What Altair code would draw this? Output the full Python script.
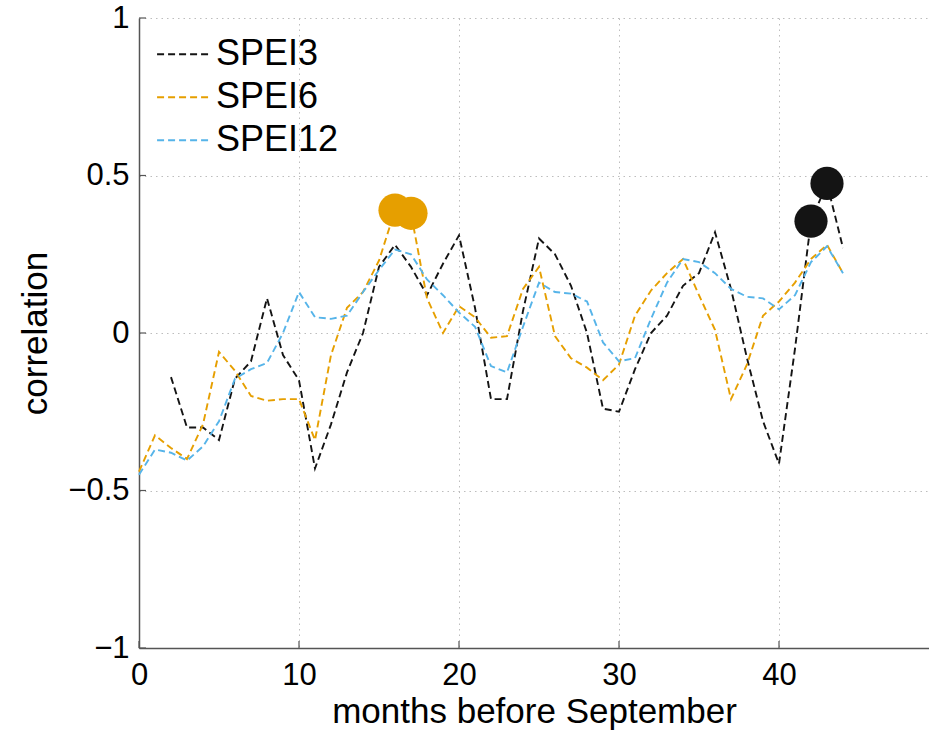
import altair as alt
import pandas as pd

# months before September
months = list(range(0, 45))

# correlation values
spei3 = [None, None, -0.14, -0.30, -0.30, -0.34, -0.145, -0.09, 0.11, -0.07,
         -0.15, -0.43, -0.29, -0.125, 0.0, 0.21, 0.28, 0.21, 0.12, 0.22,
         0.31, 0.08, -0.21, -0.21, 0.07, 0.30, 0.25, 0.15, 0.0, -0.24,
         -0.25, -0.115, 0.0, 0.055, 0.15, 0.19, 0.32, 0.14, -0.08, -0.28,
         -0.415, -0.05, 0.355, 0.475, 0.27]
spei6 = [-0.44, -0.325, -0.365, -0.40, -0.29, -0.06, -0.12, -0.20, -0.215, -0.21,
         -0.21, -0.34, -0.07, 0.08, 0.13, 0.23, 0.39, 0.38, 0.11, 0.0,
         0.085, 0.05, -0.015, -0.01, 0.14, 0.21, -0.01, -0.08, -0.11, -0.15,
         -0.10, 0.055, 0.135, 0.19, 0.235, 0.12, 0.01, -0.21, -0.10, 0.055,
         0.10, 0.16, 0.235, 0.28, 0.19]
spei12 = [-0.45, -0.37, -0.38, -0.405, -0.36, -0.28, -0.145, -0.115, -0.095, 0.0,
          0.13, 0.05, 0.045, 0.055, 0.13, 0.2, 0.265, 0.25, 0.17, 0.12,
          0.065, 0.02, -0.105, -0.125, 0.02, 0.16, 0.13, 0.125, 0.1, -0.03,
          -0.09, -0.08, 0.045, 0.16, 0.235, 0.225, 0.19, 0.14, 0.115, 0.11,
          0.075, 0.12, 0.225, 0.275, 0.19]

series_names = ["SPEI3", "SPEI6", "SPEI12"]
series_colors = ["#141414", "#E69F00", "#56B4E9"]

# significant months (large dots)
sig_spei6_months = [16, 17]
sig_spei3_months = [42, 43]

x_ticks = [0, 10, 20, 30, 40]
y_ticks = [-1, -0.5, 0, 0.5, 1]

rows = []
for name, vals in zip(series_names, [spei3, spei6, spei12]):
    for m, v in zip(months, vals):
        if v is not None:
            rows.append({"month": m, "corr": v, "series": name})
df = pd.DataFrame(rows)

sig_rows = []
for name, ms, vals in [("SPEI6", sig_spei6_months, spei6), ("SPEI3", sig_spei3_months, spei3)]:
    for m in ms:
        sig_rows.append({"month": m, "corr": vals[m], "series": name})
df_sig = pd.DataFrame(sig_rows)

df_xt = pd.DataFrame({"month": x_ticks})
df_yt = pd.DataFrame({"corr": y_ticks})

FONT = "Liberation Sans"
FS_TICK = 31
FS_TITLE = 35
FS_LEG = 36
W, H = 790, 630

color_scale = alt.Scale(domain=series_names, range=series_colors)
x_scale = alt.Scale(domain=[0, 49.375], nice=False)
y_scale = alt.Scale(domain=[-1, 1], nice=False)

x_enc = alt.X("month:Q", scale=x_scale,
              axis=alt.Axis(values=x_ticks, title="months before September",
                            format="d", labelPadding=12, titlePadding=4,
                            labelFlush=False))
y_enc = alt.Y("corr:Q", scale=y_scale,
              axis=alt.Axis(values=y_ticks, title="correlation", format="~g",
                            labelPadding=10, titlePadding=14,
                            labelFlush=False))

lines = alt.Chart(df).mark_line(strokeWidth=1.9, strokeDash=[7, 4]).encode(
    x=x_enc,
    y=y_enc,
    color=alt.Color("series:N", scale=color_scale, sort=series_names,
                    legend=alt.Legend(orient="none", legendX=17, legendY=15,
                                      title=None, symbolType="stroke",
                                      symbolSize=2900, symbolStrokeWidth=2,
                                      symbolDash=[7, 4], labelFontSize=FS_LEG,
                                      labelFont=FONT, labelColor="#000",
                                      clipHeight=42.5, labelOffset=4,
                                      rowPadding=0, padding=0)),
    order="month:Q",
)

dots = alt.Chart(df_sig).mark_circle(size=1100, opacity=1).encode(
    x=alt.X("month:Q", scale=x_scale),
    y=alt.Y("corr:Q", scale=y_scale),
    color=alt.Color("series:N", scale=color_scale, legend=None),
)

# inward tick marks (MATLAB style)
xticks_marks = alt.Chart(df_xt).mark_rule(color="#555", strokeWidth=1.2).encode(
    x=alt.X("month:Q", scale=x_scale),
    y=alt.value(H), y2=alt.value(H - 7),
)
yticks_marks = alt.Chart(df_yt).mark_rule(color="#555", strokeWidth=1.2).encode(
    y=alt.Y("corr:Q", scale=y_scale),
    x=alt.value(0), x2=alt.value(7),
)

chart = alt.layer(lines, dots, xticks_marks, yticks_marks).properties(
    width=W, height=H,
    background="white",
    autosize=alt.AutoSizeParams(type="none"),
    padding={"left": 139, "top": 18, "right": 0, "bottom": 82},
).configure_view(stroke=None).configure_axis(
    labelFont=FONT, titleFont=FONT, labelFontSize=FS_TICK, titleFontSize=FS_TITLE,
    labelColor="#000", titleColor="#000", titleFontWeight="normal",
    domainColor="#555", domainWidth=1.5, ticks=False,
    grid=True, gridColor="#bdbdbd", gridDash=[1.5, 4], gridWidth=1,
)

chart.save("out.html", embed_options={"renderer": "svg", "actions": False})
